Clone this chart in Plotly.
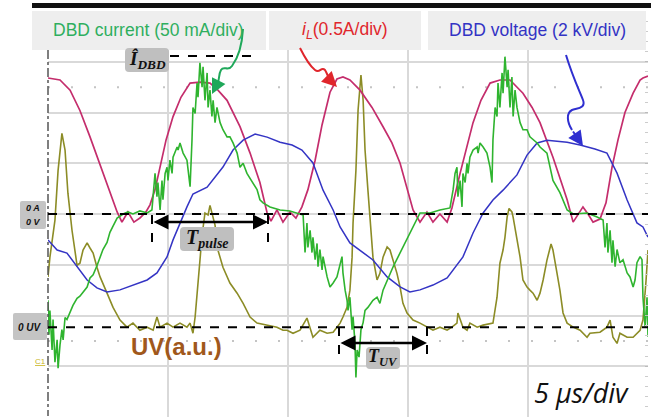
import plotly.graph_objects as go

# ---------------- data (time in µs, 5 µs/div) ----------------
# inductor current iL (A), 0.5 A/div
t_il = [0, 0.5, 0.92, 1.33, 1.75, 2.17, 2.58, 2.88, 3.08, 3.33, 3.58, 3.83, 4.08, 4.25, 4.46, 4.67, 4.92,
        5.21, 5.54, 5.92, 6.33, 6.75, 7.08, 7.46, 8.0, 8.42, 8.83, 9.13, 9.29, 9.54, 9.79, 10.08, 10.33,
        10.58, 10.83, 11.13, 11.42, 11.75, 12.04, 12.29, 12.58, 13.0, 13.5, 13.96, 14.33, 14.67, 14.96,
        15.21, 15.5, 15.79, 16.04, 16.33, 16.63, 16.83, 17.17, 17.46, 17.71, 18.04, 18.42, 18.83, 19.25,
        19.79, 20.17, 20.5, 21.04, 21.42, 21.63, 21.88, 22.08, 22.29, 22.5, 22.71, 23.0, 23.25, 23.5,
        23.75, 24.04, 24.38, 24.67, 24.79, 25.0]
il_A = [1.34, 1.32, 1.22, 1.02, 0.76, 0.49, 0.23, 0.02, -0.08, 0.02, -0.08, -0.04, 0.02, 0.09, 0.24, 0.46,
        0.73, 0.96, 1.15, 1.29, 1.30, 1.29, 1.22, 1.12, 0.86, 0.60, 0.31, 0.01, -0.07, 0.04, -0.08, 0.02,
        -0.04, 0.07, 0.24, 0.53, 0.88, 1.20, 1.33, 1.35, 1.32, 1.22, 1.05, 0.86, 0.70, 0.50, 0.24, 0.04,
        -0.08, 0.02, -0.08, 0.0, -0.08, 0.06, 0.40, 0.68, 0.90, 1.12, 1.29, 1.32, 1.32, 1.19, 1.05, 0.90,
        0.56, 0.29, 0.14, -0.08, 0.0, 0.07, 0.0, -0.08, -0.05, 0.11, 0.46, 0.73, 1.00, 1.19, 1.32, 1.34, 1.36]

# DBD voltage (kV), 2 kV/div
t_v = [0, 0.38, 0.79, 1.21, 1.63, 2.04, 2.46, 3.0, 3.54, 4.13, 4.54, 4.96, 5.21, 5.5, 5.79, 6.04, 6.63,
       7.29, 7.71, 8.13, 8.63, 9.13, 9.67, 10.17, 10.58, 11.04, 11.46, 11.88, 12.17, 12.58, 13.0, 13.54,
       14.13, 14.67, 15.08, 15.5, 16.04, 16.63, 17.29, 17.71, 18.13, 18.54, 18.96, 19.54, 19.96, 20.38,
       20.79, 21.63, 22.17, 22.79, 23.29, 23.71, 24.13, 24.54, 24.79, 25.0]
v_kV = [-1.02, -1.42, -1.54, -2.09, -2.60, -2.91, -3.07, -2.99, -2.80, -2.60, -2.32, -1.69, -1.02, -0.35,
        0.28, 0.79, 1.06, 1.85, 2.52, 2.91, 3.15, 3.03, 2.83, 2.72, 2.52, 2.01, 0.94, 0.16, -0.51, -1.14,
        -1.42, -1.81, -2.48, -2.87, -3.07, -2.99, -2.80, -2.52, -1.69, -0.75, 0.04, 0.55, 0.94, 1.54, 2.32,
        2.80, 2.91, 2.83, 2.72, 2.56, 2.40, 1.61, 0.55, -0.35, -0.51, -0.91]

# DBD current (mA), 50 mA/div
t_i = [0, 0.04, 0.08, 0.17, 0.21, 0.29, 0.38, 0.42, 0.5, 0.58, 0.63, 0.71, 0.79, 0.92, 1.04, 1.21, 1.33,
       1.46, 1.63, 1.75, 1.88, 2.04, 2.17, 2.29, 2.46, 2.58, 2.71, 2.88, 3.13, 3.33, 3.54, 3.83, 4.13,
       4.33, 4.46, 4.54, 4.58, 4.67, 4.75, 4.79, 4.88, 4.96, 5.0, 5.08, 5.17, 5.21, 5.38, 5.42, 5.5, 5.63,
       5.79, 5.92, 6.0, 6.04, 6.13, 6.21, 6.25, 6.33, 6.42, 6.46, 6.54, 6.63, 6.67, 6.75, 6.83, 6.88,
       6.96, 7.04, 7.17, 7.29, 7.46, 7.58, 7.71, 7.88, 8.0, 8.13, 8.29, 8.54, 8.71, 8.83, 8.96, 9.25,
       9.67, 10.08, 10.63, 10.71, 10.79, 10.83, 10.92, 11.0, 11.04, 11.13, 11.21, 11.25, 11.33, 11.42,
       11.46, 11.63, 11.75, 11.88, 12.04, 12.25, 12.29, 12.38, 12.46, 12.5, 12.58, 12.67, 12.71, 12.79,
       12.83, 12.88, 12.96, 13.04, 13.13, 13.21, 13.33, 13.54, 13.71, 13.83, 13.96, 14.38, 14.79, 15.21,
       15.5, 15.92, 16.33, 16.75, 16.88, 16.96, 17.04, 17.08, 17.17, 17.25, 17.29, 17.38, 17.46, 17.5,
       17.58, 17.71, 17.88, 17.92, 18.0, 18.13, 18.29, 18.42, 18.5, 18.54, 18.63, 18.71, 18.75, 18.83,
       18.92, 18.96, 19.04, 19.13, 19.17, 19.25, 19.33, 19.38, 19.46, 19.54, 19.67, 19.79, 19.96, 20.08,
       20.21, 20.38, 20.5, 20.63, 20.79, 20.92, 21.04, 21.33, 21.63, 21.88, 22.46, 22.88, 23.13, 23.21,
       23.29, 23.33, 23.42, 23.5, 23.54, 23.63, 23.71, 23.83, 23.96, 24.13, 24.25, 24.38, 24.46, 24.54,
       24.67, 24.75, 24.79, 24.88, 24.96, 25.0]
i_mA = [-85, -119, -95, -134, -104, -146, -124, -152, -129, -114, -124, -102, -104, -97, -90, -83, -81,
        -77, -72, -63, -60, -51, -43, -35, -28, -18, -12, -4, 0, 2, 0, 3, 1,
        4, 40, 17, 31, 4, 33, 14, 40, 46, 33, 53, 40, 56, 66, 63, 70, 60,
        53, 27, 73, 105, 99, 129, 115, 149, 125, 145, 112, 139, 105, 122, 96, 112,
        90, 105, 90, 83, 76, 76, 70, 60, 46, 50, 40, 31, 24, 14, 11, 7,
        4, 3, -1, -38, -9, -33, -16, -38, -23, -45, -29, -52, -35, -55,
        -42, -62, -72, -68, -62, -42, -58, -75, -85, -95, -82, -114, -101, -127,
        -161, -134, -141, -114, -107, -95, -92, -85, -82, -88, -75, -52, -33, -13,
        1, 1, 4, 6, 24, 40, 46, 17, 33, 7, 40, 31, 50, 40,
        56, 63, 66, 60, 70, 66, 60, 46, 31, 73, 105, 96, 129, 105,
        139, 119, 155, 125, 142, 105, 135, 96, 122, 105, 90, 83, 83, 76,
        73, 70, 66, 63, 60, 46, 33, 21, 4, 0, 1, -3, -6, -33,
        -9, -38, -16, -48, -26, -52, -35, -48, -45, -58, -62, -72, -65, -48,
        -42, -45, -82, -111, -82, -121]

# UV emission (a.u., 1 a.u. = 1 div), referenced to its own zero line
t_uv = [0, 0.08, 0.29, 0.42, 0.58, 0.71, 0.83, 1.0, 1.21, 1.33, 1.46, 1.63, 1.75, 1.88, 2.04, 2.17, 2.46,
        2.71, 3.0, 3.29, 3.54, 3.83, 4.13, 4.38, 4.54, 4.67, 4.96, 5.21, 5.5, 5.79, 5.92, 6.04, 6.13, 6.25,
        6.42, 6.54, 6.67, 6.75, 6.83, 6.96, 7.08, 7.29, 7.58, 7.88, 8.13, 8.42, 8.71, 9.13, 9.54, 9.79,
        9.96, 10.21, 10.5, 10.79, 10.92, 11.04, 11.33, 11.63, 11.88, 12.17, 12.29, 12.46, 12.58, 12.67,
        12.71, 12.83, 12.92, 13.04, 13.13, 13.21, 13.33, 13.42, 13.54, 13.71, 13.83, 13.96, 14.13, 14.25,
        14.38, 14.54, 14.67, 14.79, 14.96, 15.21, 15.5, 15.79, 16.04, 16.33, 16.63, 16.83, 17.04, 17.08,
        17.17, 17.29, 17.46, 17.58, 17.88, 18.13, 18.54, 18.71, 18.83, 18.96, 19.04, 19.13, 19.21, 19.33,
        19.38, 19.54, 19.67, 19.79, 19.96, 20.08, 20.21, 20.38, 20.5, 20.63, 20.79, 20.96, 21.04, 21.21,
        21.33, 21.46, 21.63, 21.88, 22.17, 22.46, 22.58, 23.0, 23.29, 23.42, 23.54, 23.71, 23.83, 24.13,
        24.38, 24.67, 24.79, 24.92, 25.0]
uv_au = [0.99, 1.38, 2.11, 3.09, 3.82, 3.49, 2.64, 1.91, 1.22, 1.26, 1.52, 1.66, 1.56, 1.46, 1.18, 0.99,
         0.67, 0.39, 0.14, 0.0, 0.08, -0.06, 0.0, -0.06, 0.20, 0.0, 0.08, 0.0, 0.08, 0.0, 0.08, -0.12,
         0.20, 0.93, 1.81, 2.25, 2.21, 2.40, 2.25, 2.01, 1.52, 1.18, 0.87, 0.67, 0.47, 0.20, 0.08, 0.04,
         0.0, -0.06, -0.06, -0.12, -0.06, 0.18, 0.0, -0.20, -0.06, -0.12, -0.10, 0.08, 0.20, 0.39, 0.73,
         1.38, 2.05, 3.09, 4.28, 4.97, 4.47, 3.49, 2.70, 2.05, 1.38, 0.93, 1.06, 1.38, 1.58, 1.52, 1.32,
         1.06, 0.79, 0.47, 0.28, 0.14, 0.08, 0.0, -0.06, 0.0, -0.06, 0.0, 0.08, 0.28, 0.14, 0.0, -0.06,
         0.08, 0.0, 0.04, 0.08, 0.59, 1.26, 1.52, 1.77, 2.17, 2.34, 2.27, 2.17, 1.71, 1.38, 0.93, 0.79,
         0.73, 0.67, 0.53, 0.67, 0.93, 1.32, 1.64, 1.52, 1.06, 0.73, 0.28, 0.08, 0.0, -0.06, -0.20, -0.12,
         -0.10, 0.0, 0.14, -0.20, -0.32, -0.12, -0.20, -0.20, -0.06, 0.14, 0.93, 1.52]

# channel scales (per division) and offsets
IL_PER_DIV = 0.5      # A/div
V_PER_DIV = 2.0       # kV/div
I_PER_DIV = 50.0      # mA/div
UV_ZERO_DIV = -2.23   # position of the UV zero line (div)

# ---------------- figure geometry ----------------
W, H = 667, 420
PL, PR, PT, PB = 48, 648, 11, 417


def fx(x):
    return x / W


def fy(y):
    return 1 - y / H


def pt(x, y):
    return f"{fx(x):.5f},{fy(y):.5f}"


COL_IL = "#c42d6c"
COL_V = "#3434c4"
COL_I = "#2fb42f"
COL_UV = "#8c8c26"

fig = go.Figure()
fig.add_trace(go.Scatter(x=t_uv, y=[u + UV_ZERO_DIV for u in uv_au], mode="lines",
                         line=dict(color=COL_UV, width=1.6), hoverinfo="skip"))
fig.add_trace(go.Scatter(x=t_il, y=[a / IL_PER_DIV for a in il_A], mode="lines",
                         line=dict(color=COL_IL, width=1.7), hoverinfo="skip"))
fig.add_trace(go.Scatter(x=t_v, y=[v / V_PER_DIV for v in v_kV], mode="lines",
                         line=dict(color=COL_V, width=1.5), hoverinfo="skip"))
fig.add_trace(go.Scatter(x=t_i, y=[i / I_PER_DIV for i in i_mA], mode="lines",
                         line=dict(color=COL_I, width=1.6), hoverinfo="skip"))

shapes = []
annotations = []

# minor dotted rows
for yd in (2.5, -2.5):
    shapes.append(dict(type="line", xref="x", yref="y", x0=0, x1=25, y0=yd, y1=yd,
                       line=dict(color="#c4c4c4", width=2, dash="2px,21px"), layer="below"))

# left dash-dot edge
shapes.append(dict(type="line", xref="paper", yref="paper", x0=fx(PL), x1=fx(PL), y0=fy(50), y1=fy(416),
                   line=dict(color="#555555", width=1.5, dash="dashdot"), layer="above"))

# top black bar
shapes.append(dict(type="rect", xref="paper", yref="paper", x0=fx(32), x1=fx(651), y0=fy(8), y1=fy(3),
                   fillcolor="#111111", line=dict(width=0), layer="above"))

# header label boxes
for x0, x1 in ((32, 266), (269, 421), (428, 646)):
    shapes.append(dict(type="rect", xref="paper", yref="paper", x0=fx(x0), x1=fx(x1), y0=fy(50), y1=fy(11),
                       fillcolor="#eeeeee", line=dict(width=0), layer="above"))

# zero lines
for yd in (0, UV_ZERO_DIV):
    shapes.append(dict(type="line", xref="x", yref="y", x0=0, x1=25.1, y0=yd, y1=yd,
                       line=dict(color="black", width=2, dash="dash"), layer="above"))


def rbox(x0, y0, x1, y1, r=4, color="#bfbfbf"):
    rx, ry = r / W, r / H
    a0, a1, b0, b1 = fx(x0), fx(x1), fy(y1), fy(y0)
    p = (f"M {a0+rx:.5f},{b0:.5f} L {a1-rx:.5f},{b0:.5f} Q {a1:.5f},{b0:.5f} {a1:.5f},{b0+ry:.5f} "
         f"L {a1:.5f},{b1-ry:.5f} Q {a1:.5f},{b1:.5f} {a1-rx:.5f},{b1:.5f} "
         f"L {a0+rx:.5f},{b1:.5f} Q {a0:.5f},{b1:.5f} {a0:.5f},{b1-ry:.5f} "
         f"L {a0:.5f},{b0+ry:.5f} Q {a0:.5f},{b0:.5f} {a0+rx:.5f},{b0:.5f} Z")
    shapes.append(dict(type="path", xref="paper", yref="paper", path=p, fillcolor=color,
                       line=dict(width=0), layer="above"))


def vdash(x, y0, y1):
    shapes.append(dict(type="line", xref="paper", yref="paper", x0=fx(x), x1=fx(x), y0=fy(y0), y1=fy(y1),
                       line=dict(color="black", width=2, dash="dash"), layer="above"))


def text(x, y, s, size, color="black", family="Liberation Sans", xanchor="center"):
    annotations.append(dict(xref="paper", yref="paper", x=fx(x), y=fy(y), text=s, showarrow=False,
                            xanchor=xanchor, yanchor="middle",
                            font=dict(size=size, color=color, family=family)))


def arrowhead(xt, yt, xs, ys, color, size=1.4, width=2, side="end", head=2):
    annotations.append(dict(xref="paper", yref="paper", x=fx(xt), y=fy(yt), ax=xs - xt, ay=ys - yt,
                            text="", showarrow=True, arrowhead=head, startarrowhead=head,
                            arrowsize=size, startarrowsize=size, arrowwidth=width,
                            arrowcolor=color, arrowside=side, standoff=0, startstandoff=0))


# header texts
text(148, 30, "DBD current (50 mA/div)", 17.5, "#2fae5e")
text(345, 31, "<i>i</i><sub><i>L</i></sub>(0.5A/div)", 17.5, "#e0262c")
text(537, 30, "DBD voltage (2 kV/div)", 17.5, "#3333c4")

# curly pointer arrows
shapes.append(dict(type="path", xref="paper", yref="paper",
                   path=f"M {pt(243,29)} C {pt(242,46)} {pt(238,58)} {pt(232,66)} "
                        f"C {pt(228,72)} {pt(224,65)} {pt(221,70)} C {pt(218,75)} {pt(220,80)} {pt(217,85)}",
                   line=dict(color="#1fa85a", width=2), layer="above"))
arrowhead(212, 94, 217, 84, "#1fa85a", size=1.5)

shapes.append(dict(type="path", xref="paper", yref="paper",
                   path=f"M {pt(300,48)} C {pt(305,58)} {pt(310,66)} {pt(315,70)} "
                        f"C {pt(320,74)} {pt(321,66)} {pt(325,70)} C {pt(327,73)} {pt(328,77)} {pt(330,80)}",
                   line=dict(color="#e0262c", width=2), layer="above"))
arrowhead(337, 87, 330, 80, "#e0262c", size=1.5)

shapes.append(dict(type="path", xref="paper", yref="paper",
                   path=f"M {pt(566,55)} C {pt(572,75)} {pt(579,90)} {pt(583,100)} "
                        f"C {pt(586,108)} {pt(578,108)} {pt(572,110)} C {pt(566,113)} {pt(567,122)} {pt(572,130)}",
                   line=dict(color="#2f2fd0", width=2), layer="above"))
arrowhead(583, 146, 572, 130, "#2f2fd0", size=1.5)

# peak current marker
shapes.append(dict(type="line", xref="paper", yref="paper", x0=fx(170), x1=fx(252), y0=fy(56), y1=fy(56),
                   line=dict(color="black", width=2, dash="dash"), layer="above"))
rbox(125, 48, 169, 72)
text(147, 60, "<b><i>Î<sub>DBD</sub></i></b>", 19, "#111111", "Liberation Serif")

# zero-level labels
rbox(20, 201, 46, 229, r=2, color="#c4c4c4")
text(33, 208, "<b><i>0 A</i></b>", 9, "#111111")
text(33, 222, "<b><i>0 V</i></b>", 9, "#111111")
rbox(13, 313, 47, 340, r=2, color="#c4c4c4")
text(30, 327, "<b><i>0 UV</i></b>", 10, "#111111")
text(40, 361, "<u>C1</u>", 8, "#c8b41e")

# T_pulse
vdash(152, 215, 251)
vdash(268, 215, 251)
arrowhead(268, 222, 152, 222, "black", size=1.2, width=2.5, side="end+start")
rbox(180, 227, 234, 251)
text(207, 238, "<b><i>T<sub>pulse</sub></i></b>", 20, "#111111", "Liberation Serif")

# T_UV
vdash(339, 327, 361)
vdash(427, 327, 361)
arrowhead(427, 343, 339, 343, "black", size=1.2, width=2.5, side="end+start")
rbox(366, 347, 400, 369)
text(383, 357, "<b><i>T<sub>UV</sub></i></b>", 18, "#111111", "Liberation Serif")

# captions
text(176, 346, "<b>UV(a.u.)</b>", 24, "#a0581c")
text(581, 392, "<i>5 µs/div</i>", 27, "#111111", "Open Sans")

fig.update_layout(
    width=W, height=H, margin=dict(l=0, r=0, t=0, b=0),
    paper_bgcolor="white", plot_bgcolor="white", showlegend=False,
    shapes=shapes, annotations=annotations,
    xaxis=dict(domain=[fx(PL), fx(PR)], range=[0, 25], dtick=5, showgrid=True, gridcolor="#d9d9d9",
               gridwidth=1.5, zeroline=False, showticklabels=False, ticks="", showline=False, fixedrange=True),
    yaxis=dict(domain=[fy(PB), fy(PT)], range=[-4, 4], dtick=1, showgrid=True, gridcolor="#d9d9d9",
               gridwidth=1.5, zeroline=False, showticklabels=False, side="right",
               ticks="inside", ticklen=3, tickcolor="#bbbbbb",
               minor=dict(dtick=0.2, ticks="inside", ticklen=3, tickcolor="#cccccc", showgrid=False),
               showline=False, fixedrange=True),
)

# the page body normally has an 8px margin; remove it so the figure fills the window
fig.write_html("out.html", config={"displayModeBar": False},
               post_script="document.body.style.margin='0';document.body.style.overflow='hidden';")
